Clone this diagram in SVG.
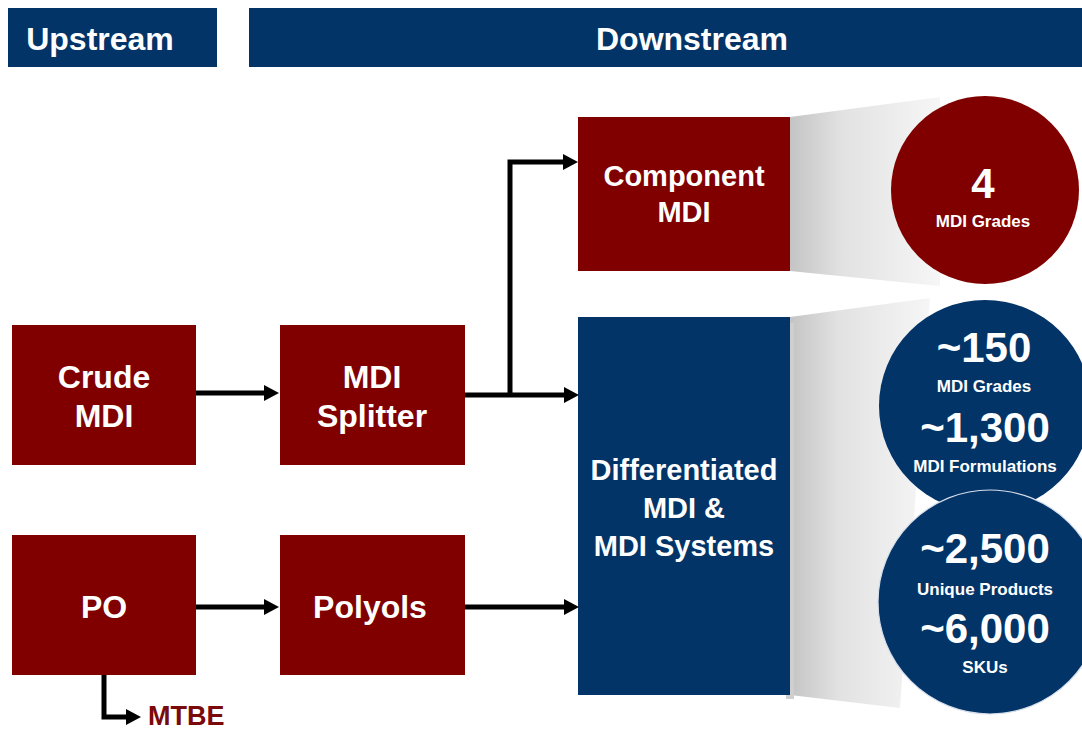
<svg xmlns="http://www.w3.org/2000/svg" width="1082" height="731" viewBox="0 0 1082 731">
  <style>
    .red { fill: #800000; }
    .navy { fill: #033468; }
    .lbl { font-family: "Liberation Sans", Arial, sans-serif; font-weight: bold; fill: #ffffff; text-anchor: middle; }
    .head { font-size: 32px; }
    .box { font-size: 32px; }
    .wide { font-size: 29px; }
    .big { font-size: 42px; }
    .small { font-size: 17px; }
    .conn { fill: none; stroke: #000000; stroke-width: 5; marker-end: url(#arrow); }
  </style>
  <defs>
    <marker id="arrow" markerUnits="userSpaceOnUse" markerWidth="15" markerHeight="16" refX="4" refY="8" orient="auto">
      <path d="M0,0 L15,8 L0,16 z" fill="#000000"/>
    </marker>
    <linearGradient id="fan" x1="0" y1="0" x2="1" y2="0">
      <stop offset="0" stop-color="#c4c4c4"/>
      <stop offset="0.35" stop-color="#e2e2e2"/>
      <stop offset="1" stop-color="#f6f6f6"/>
    </linearGradient>
  </defs>

  <rect width="1082" height="731" fill="#ffffff"/>

  <!-- column headers -->
  <g id="hdr-upstream">
    <rect class="navy" x="8" y="8" width="209" height="59"/>
    <text class="lbl head" x="100" y="50">Upstream</text>
  </g>
  <g id="hdr-downstream">
    <rect class="navy" x="249" y="8" width="833" height="59"/>
    <text class="lbl head" x="692" y="50">Downstream</text>
  </g>

  <!-- fan-out shading behind the count bubbles -->
  <g id="fans">
    <polygon points="790,117 940,97 940,286 790,271" fill="url(#fan)"/>
    <polygon points="790,317 930,298 900,708 790,695" fill="url(#fan)"/>
    <rect x="786" y="323" width="8" height="376" fill="#cfcfcf"/>
  </g>

  <g id="crude-mdi">
    <rect class="red" x="12" y="325" width="184" height="140"/>
    <text class="lbl box" x="104" y="388">Crude</text>
    <text class="lbl box" x="104" y="427">MDI</text>
  </g>
  <g id="mdi-splitter">
    <rect class="red" x="280" y="325" width="185" height="140"/>
    <text class="lbl box" x="372" y="388">MDI</text>
    <text class="lbl box" x="372" y="427">Splitter</text>
  </g>
  <g id="po">
    <rect class="red" x="12" y="535" width="184" height="140"/>
    <text class="lbl box" x="104" y="618">PO</text>
  </g>
  <g id="polyols">
    <rect class="red" x="280" y="535" width="185" height="140"/>
    <text class="lbl box" x="370" y="618">Polyols</text>
  </g>
  <g id="component-mdi">
    <rect class="red" x="578" y="117" width="212" height="154"/>
    <text class="lbl wide" x="684" y="186">Component</text>
    <text class="lbl wide" x="684" y="222">MDI</text>
  </g>
  <g id="differentiated">
    <rect class="navy" x="578" y="317" width="212" height="378"/>
    <text class="lbl wide" x="684" y="480">Differentiated</text>
    <text class="lbl wide" x="684" y="518">MDI &amp;</text>
    <text class="lbl wide" x="684" y="556">MDI Systems</text>
  </g>
  <g id="mtbe">
    <text x="148" y="725" font-family="Liberation Sans, Arial, sans-serif" font-weight="bold" font-size="27" fill="#7a0a0a">MTBE</text>
  </g>

  <!-- count bubbles -->
  <g id="bubble-component">
    <circle class="red" cx="985" cy="190" r="94"/>
    <text class="lbl big" x="983" y="198">4</text>
    <text class="lbl small" x="983" y="227">MDI Grades</text>
  </g>
  <g id="bubble-grades">
    <circle class="navy" cx="985" cy="406" r="106"/>
    <text class="lbl big" x="984" y="362">~150</text>
    <text class="lbl small" x="984" y="392">MDI Grades</text>
    <text class="lbl big" x="985" y="442">~1,300</text>
    <text class="lbl small" x="985" y="472">MDI Formulations</text>
  </g>
  <g id="bubble-products">
    <circle class="navy" cx="990" cy="602" r="112" stroke="#d6deea" stroke-width="1.2"/>
    <text class="lbl big" x="985" y="563">~2,500</text>
    <text class="lbl small" x="985" y="595">Unique Products</text>
    <text class="lbl big" x="985" y="643">~6,000</text>
    <text class="lbl small" x="985" y="673">SKUs</text>
  </g>

  <!-- connectors -->
  <g id="connectors">
    <path class="conn" d="M196,393 H268"/>
    <path class="conn" d="M465,395 H568"/>
    <path class="conn" d="M510,395 V162 H567"/>
    <path class="conn" d="M196,607 H268"/>
    <path class="conn" d="M465,607 H568"/>
    <path class="conn" d="M104,675 V717 H130"/>
  </g>
</svg>
